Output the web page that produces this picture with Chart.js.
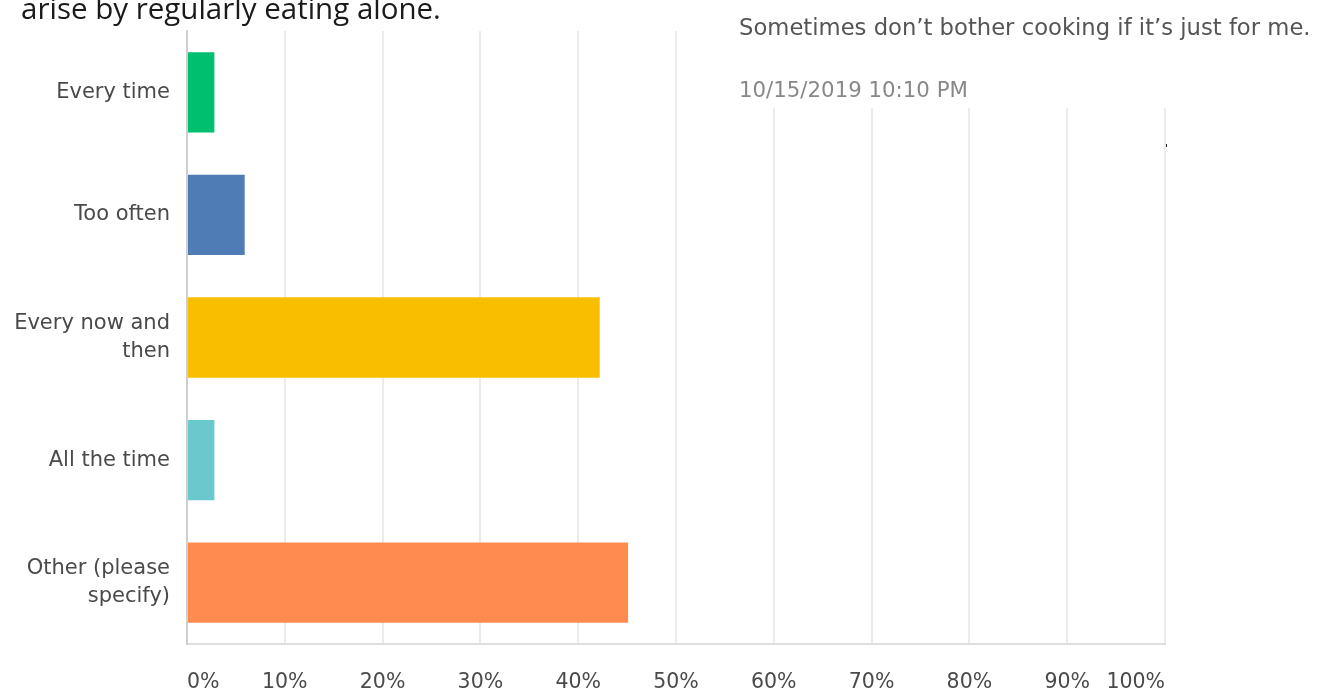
<!DOCTYPE html>
<html>
<head>
<meta charset="utf-8">
<script src="https://cdn.jsdelivr.net/npm/chart.js@4/dist/chart.umd.min.js"></script>
<style>
    html, body { margin: 0; padding: 0; background: #fff; }
    #wrap { width: 1338px; height: 693px; }
</style>
</head>
<body>
<div id="wrap"><canvas id="chart-answers" width="1338" height="693"></canvas></div>
<script>
// Answer choices (two-line labels where the text wraps)
const answers = [
    'Every time',
    'Too often',
    ['Every now and', 'then'],
    'All the time',
    ['Other (please', 'specify)']
];
// Share of respondents per answer, in percent
const shares = [2.8, 5.9, 42.2, 2.8, 45.1];
const barColors = ['#00bf6f', '#507cb6', '#f9be00', '#6bc8cd', '#ff8b4f'];
const pctTicks = [0, 10, 20, 30, 40, 50, 60, 70, 80, 90, 100];

const labelFont = 'DejaVu Sans';

// Text around the chart: end of the question and a comment card
const overlayText = {
    question: 'arise by regularly eating alone.',
    comment: 'Sometimes don\u2019t bother cooking if it\u2019s just for me.',
    stamp: '10/15/2019 10:10 PM'
};

const overlayPlugin = {
    id: 'overlay',
    afterDraw(chart) {
        const ctx = chart.ctx;
        ctx.save();
        // comment card sits on top of the upper right grid
        ctx.fillStyle = '#ffffff';
        ctx.fillRect(720, 0, 618, 108);
        ctx.textBaseline = 'middle';
        ctx.textAlign = 'left';
        ctx.font = '22.7px "' + labelFont + '"';
        ctx.fillStyle = '#555555';
        ctx.fillText(overlayText.comment, 739, 29);
        ctx.font = '21.3px "' + labelFont + '"';
        ctx.fillStyle = '#888888';
        ctx.fillText(overlayText.stamp, 739, 91);
        // question text, cut by the top edge
        ctx.textBaseline = 'alphabetic';
        ctx.font = '29.5px "Open Sans"';
        ctx.fillStyle = '#1a1a1a';
        ctx.fillText(overlayText.question, 21, 19);
        // small stray mark next to the right grid line
        ctx.fillStyle = '#222';
        ctx.fillRect(1166, 144, 1, 3);
        ctx.restore();
    }
};

new Chart(document.getElementById('chart-answers').getContext('2d'), {
    type: 'bar',
    data: {
        labels: answers,
        datasets: [{
            data: shares,
            backgroundColor: barColors,
            borderWidth: 0,
            barPercentage: 0.655,
            categoryPercentage: 1
        }]
    },
    options: {
        indexAxis: 'y',
        responsive: false,
        animation: false,
        devicePixelRatio: 1,
        layout: { padding: { top: 31, right: 173, left: 0, bottom: 0 } },
        plugins: {
            legend: { display: false },
            tooltip: { enabled: false }
        },
        scales: {
            x: {
                min: 0,
                max: 100,
                afterBuildTicks(scale) {
                    scale.ticks = pctTicks.map(v => ({ value: v }));
                },
                afterFit(scale) {
                    scale.height = 49;
                    scale.paddingLeft = 0;
                    scale.paddingRight = 0;
                },
                grid: { color: '#ebebeb', lineWidth: 2, drawTicks: false },
                border: { color: '#dedede', width: 2 },
                ticks: {
                    padding: 26,
                    align: 'inner',
                    maxRotation: 0,
                    color: '#4a4a4a',
                    font: { family: labelFont, size: 20.5 },
                    callback: v => v + '%'
                }
            },
            y: {
                afterFit(scale) {
                    scale.width = 187;
                    scale.paddingTop = 0;
                    scale.paddingBottom = 0;
                },
                grid: { display: false, drawTicks: false },
                border: { color: '#cfcfcf', width: 2 },
                ticks: {
                    padding: 17,
                    color: '#4a4a4a',
                    font: { family: labelFont, size: 21, lineHeight: 1.35 }
                }
            }
        }
    },
    plugins: [overlayPlugin]
});
</script>
</body>
</html>
